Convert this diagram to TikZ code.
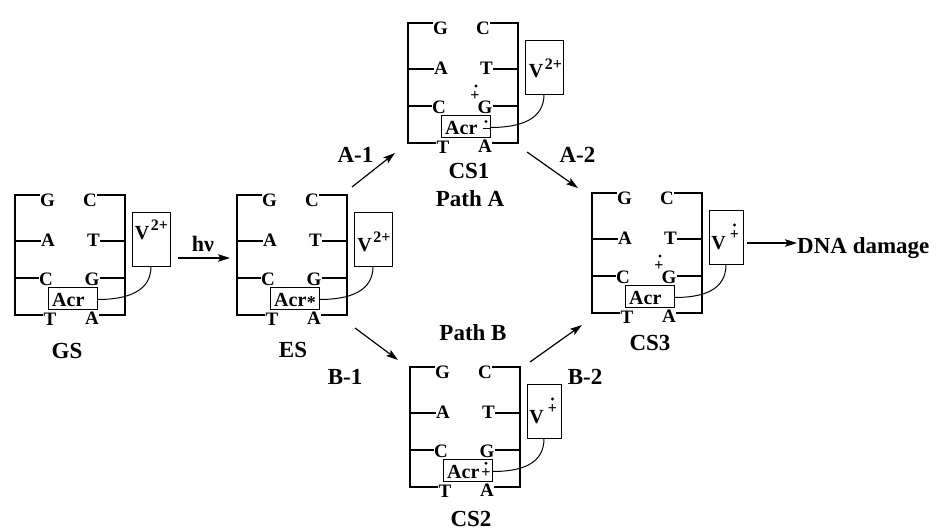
\documentclass[tikz,border=0pt]{standalone}
\usepackage{fontspec}
\setmainfont{Liberation Serif}
\usetikzlibrary{arrows.meta}
\newcommand\DNAbase[2]{%
  \coordinate (#1a1) at (0,0);   \coordinate (#1a2) at (0,46);
  \coordinate (#1a3) at (0,83);  \coordinate (#1a4) at (0,120);
  \coordinate (#1b1) at (110,0); \coordinate (#1b2) at (110,46);
  \coordinate (#1b3) at (110,83);\coordinate (#1b4) at (110,120);
  \node[bp] (#1L1) at (32.5,11) {G};  \node[bp] (#1R1) at (75,11) {C};
  \node[bp] (#1L2) at (33,51.5) {A};  \node[bp] (#1R2) at (78.5,51.5) {T};
  \node[bp] (#1L3) at (31,90) {C};    \node[bp] (#1R3) at (77,90) {G};
  \node[bp] (#1L4) at (35,130) {T};   \node[bp] (#1R4) at (77,129.5) {A};
  \draw[rail] (#1L1.west |- #1a1) -- (#1a1) -- (#1a4) -- (#1L4.west |- #1a4);
  \draw[rail] (#1a2) -- (#1L2.west |- #1a2);
  \draw[rail] (#1a3) -- (#1L3.west |- #1a3);
  \draw[rail] (#1R1.east |- #1b1) -- (#1b1) -- (#1b4) -- (#1R4.east |- #1b4);
  \draw[rail] (#1R2.east |- #1b2) -- (#1b2);
  \draw[rail] (#1R3.east |- #1b3) -- (#1b3);
  \node[box, minimum width=49pt, minimum height=22pt] (#1acr) at (57.5,103) {};
  \node[acrt] (#1acrt) at (37,111.5) {Acr#2};
}
\newcommand\Vtwo[1]{%
  \node[box, minimum width=38pt, minimum height=54pt] (#1v) at (136,44) {};
  \draw[link] (#1v.south) .. controls +(0,25) and +(30,0) .. ([yshift=-1.5pt]#1acr.east);
}
\newcommand\Vrad[1]{%
  \node[box, minimum width=34pt, minimum height=54pt] (#1v) at (134,44) {};
  \node[vt] (#1V) at (126.5,50) {V};
  \fill (142.5,32) circle[radius=1.6pt];
  \node[chg] (#1Vp) at (142.5,46.5) {+};
  \draw[link] (#1v.south) .. controls +(0,25) and +(30,0) .. ([yshift=-1.5pt]#1acr.east);
}
\newcommand\Grad[1]{%
  \fill (68,63) circle[radius=1.6pt];
  \node[chg] (#1Gp) at (67,77.5) {+};
}
\begin{document}
\begin{tikzpicture}[x=1pt,y=-1pt,
  rail/.style={line width=2.2pt, line join=miter},
  bp/.style={font=\fontsize{19}{19}\selectfont\bfseries, inner sep=0pt, anchor=base},
  acrt/.style={font=\fontsize{20}{20}\selectfont\bfseries, inner sep=0pt, anchor=base west},
  box/.style={draw, line width=0.9pt, inner sep=0pt},
  link/.style={line width=1pt},
  vt/.style={font=\fontsize{20}{20}\selectfont\bfseries, inner sep=0pt},
  vsup/.style={font=\fontsize{16}{16}\selectfont\bfseries, inner sep=0pt},
  chg/.style={font=\fontsize{16}{16}\selectfont\bfseries, inner sep=0pt, anchor=base},
  lab/.style={font=\fontsize{23}{23}\selectfont\bfseries, inner sep=0pt},
  arr/.style={line width=1.2pt, -{Stealth[length=12pt,width=7.5pt,inset=2.5pt]}}]
\useasboundingbox (0,0) rectangle (937,530);

% GS
\begin{scope}[shift={(15,195)}]
  \DNAbase{gs}{}
  \Vtwo{gs}
  \node[vt] (gsV) at (127,38) {V};
  \node[vsup] (gsVs) at (144.5,30) {2+};
\end{scope}
% ES
\begin{scope}[shift={(237,195)}]
  \DNAbase{es}{\hspace{0.5pt}{\fontsize{18}{18}\selectfont\raisebox{-1.8pt}{*}}}
  \Vtwo{es}
  \node[vt] (esV) at (127.5,50) {V};
  \node[vsup] (esVs) at (145,42) {2+};
\end{scope}
% CS1
\begin{scope}[shift={(408,23)}]
  \DNAbase{ca}{}
  \Vtwo{ca}
  \node[vt] (caV) at (128,48) {V};
  \node[vsup] (caVs) at (145.5,41) {2+};
  \Grad{ca}
  \fill (78,98.5) circle[radius=1.6pt];
  \draw[line width=1.6pt] (74.5,105.5) -- (82,105.5);
\end{scope}
% CS2
\begin{scope}[shift={(410,367)}]
  \DNAbase{cb}{}
  \Vrad{cb}
  \fill (76,96.3) circle[radius=1.6pt];
  \node[chg] (cbp) at (76,110) {+};
\end{scope}
% CS3
\begin{scope}[shift={(592,193)}]
  \DNAbase{cc}{}
  \Vrad{cc}
  \Grad{cc}
\end{scope}

% labels
\node[lab] (lGS) at (67,351) {GS};
\node[lab] (lES) at (293,350) {ES};
\node[lab] (lCSa) at (469,171) {CS1};
\node[lab] (lPA) at (470,199) {Path A};
\node[lab] (lPB) at (473,333) {Path B};
\node[lab] (lCSb) at (471,518.5) {CS2};
\node[lab] (lCSc) at (650,343) {CS3};
\node[lab] (lA1) at (355.5,154.5) {A-1};
\node[lab] (lA2) at (577.5,154.5) {A-2};
\node[lab] (lB1) at (345,377) {B-1};
\node[lab] (lB2) at (585,376.5) {B-2};
\node[lab, font=\fontsize{22}{22}\selectfont\bfseries, anchor=base] (lhv) at (203,251.5) {hν};
\node[lab, anchor=base west] (ldna) at (797,253) {DNA damage};

% arrows
\coordinate (h1) at (178,258);   \coordinate (h2) at (230,258);
\coordinate (a1s) at (352,187);  \coordinate (a1e) at (395,153);
\coordinate (a2s) at (527,152);  \coordinate (a2e) at (578,188);
\coordinate (b1s) at (355,328);  \coordinate (b1e) at (398,360);
\coordinate (b2s) at (530,362);  \coordinate (b2e) at (582,325);
\coordinate (d1) at (747,243);
\draw[arr] (h1) -- (h2);
\draw[arr] (a1s) -- (a1e);
\draw[arr] (a2s) -- (a2e);
\draw[arr] (b1s) -- (b1e);
\draw[arr] (b2s) -- (b2e);
\draw[arr] (d1) -- (ldna.west |- d1);
\end{tikzpicture}
\end{document}
